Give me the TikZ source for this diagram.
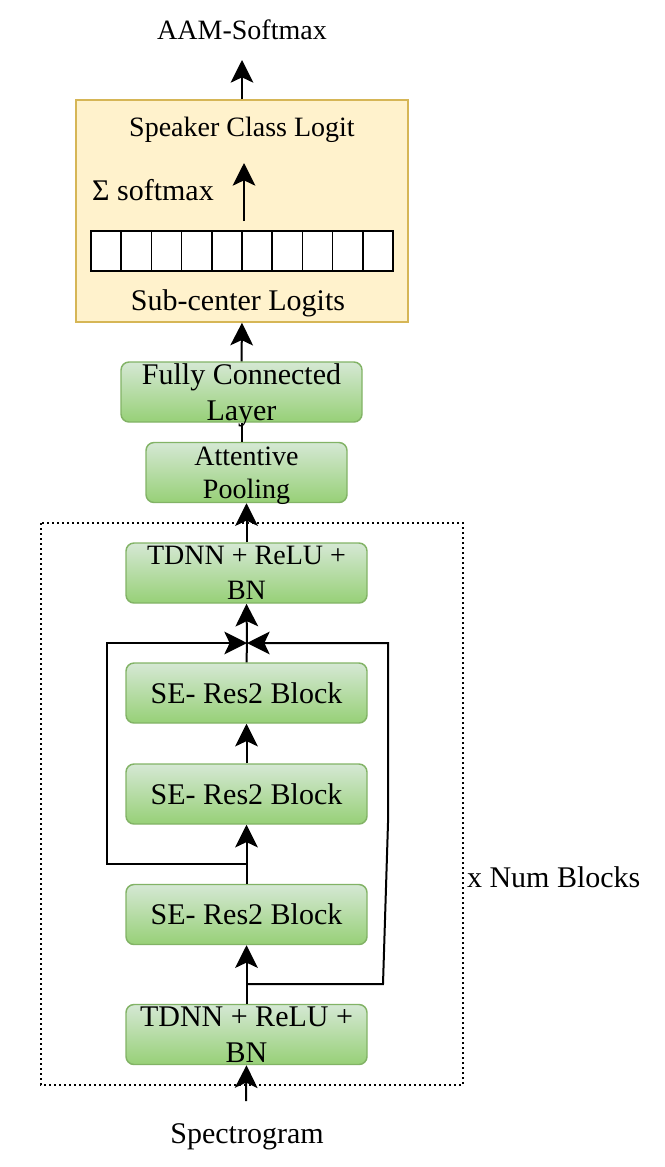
\documentclass[tikz,border=0pt]{standalone}
\usepackage{fontspec}
\setmainfont{Liberation Serif}
\usetikzlibrary{arrows.meta}

\definecolor{greenline}{HTML}{82B366}
\definecolor{greentop}{HTML}{D5E8D4}
\definecolor{greenbottom}{HTML}{97D077}
\definecolor{logitline}{HTML}{D6B656}
\definecolor{logitfill}{HTML}{FFF2CC}

\begin{document}
\begin{tikzpicture}[x=0.75pt, y=-0.75pt, line width=1.5pt,
	>={Stealth[length=17pt, width=17pt, inset=4pt]},
	greenbox/.style={draw=greenline, line width=1.1pt, rounded corners=6pt,
		top color=greentop, bottom color=greenbottom, inner sep=0pt,
		minimum width=180.75pt, minimum height=45pt, align=center, text depth=0pt,
		font=\fontsize{22.5}{27}\selectfont},
	plaintext/.style={inner sep=0pt, font=\fontsize{22.5}{27}\selectfont}]

	\useasboundingbox (0, 0) rectangle (664, 1167);

	% Выход
	\node[plaintext, font=\fontsize{21}{25}\selectfont] (aam) at (242, 30) {AAM-Softmax};
	\coordinate (aamin) at (242, 60);

	% Блок логитов
	\node[draw=logitline, fill=logitfill, line width=1.1pt, inner sep=0pt,
		minimum width=249pt, minimum height=166.5pt] (logits) at (242, 211) {};
	\node[plaintext, font=\fontsize{21}{25}\selectfont] (speaker) at (242, 130) {Speaker Class Logit};
	\node[plaintext] (sigma) at (153, 190) {Σ softmax};
	\foreach \i in {0,...,9}
		\draw[line width=1.1pt, fill=white] ({91+30.2*\i}, 231) rectangle ++(30.2, 40);
	\node[plaintext] (subcenter) at (238, 303) {Sub-center Logits};
	\coordinate (sumfrom) at (244, 221);
	\coordinate (sumto) at (244, 163);

	% Слои
	\node[greenbox] (fc) at (241.5, 392) {Fully Connected\\Layer};
	\node[greenbox, minimum width=150.75pt, font=\fontsize{21}{24.75}\selectfont] (pool) at (246.5, 472.5) {Attentive\\Pooling};
	\node[greenbox, font=\fontsize{21}{26.25}\selectfont] (tdnnout) at (246.5, 573) {TDNN + ReLU +\\BN};
	\node[greenbox] (resa) at (246.5, 693) {SE- Res2 Block};
	\node[greenbox] (resb) at (246.5, 794) {SE- Res2 Block};
	\node[greenbox] (resc) at (246.5, 914.5) {SE- Res2 Block};
	\node[greenbox] (tdnnin) at (246.5, 1034.5) {TDNN + ReLU +\\BN};

	% Повторяемая часть
	\draw[line width=1.1pt, dash pattern=on 1.5pt off 2.25pt] (41, 523) rectangle (463, 1085);
	\node[plaintext, anchor=west] (numblocks) at (466, 877) {x Num Blocks};

	% Вход
	\node[plaintext] (spec) at (247, 1137) {Spectrogram};
	\coordinate (specout) at (246, 1101);

	\coordinate (merge) at (247, 643);
	\coordinate (skipa) at (247, 864);
	\coordinate (skipb) at (247, 984);

	% Стрелки
	\draw[->] (logits.north) -- (aamin);
	\draw[->] (sumfrom) -- (sumto);
	\draw[->] (fc.north) -- (logits.south);
	\draw (fc.south) -- (fc.south |- pool.north);
	\draw[->] (tdnnout.north) -- (pool.south);
	\draw[->] (merge) -- (tdnnout.south);
	\draw (resa.north) -- (merge);
	\draw[->] (resb.north) -- (resa.south);
	\draw[->] (resc.north) -- (resb.south);
	\draw[->] (tdnnin.north) -- (resc.south);
	\draw[->] (skipa) -- (107, 864) -- (107, 643) -- (merge); % Обход слева
	\draw[->] (skipb) -- (383, 984) -- (388, 823) -- (388, 643) -- (merge); % Обход справа
	\draw[->] (specout) -- (tdnnin.south);
\end{tikzpicture}
\end{document}
